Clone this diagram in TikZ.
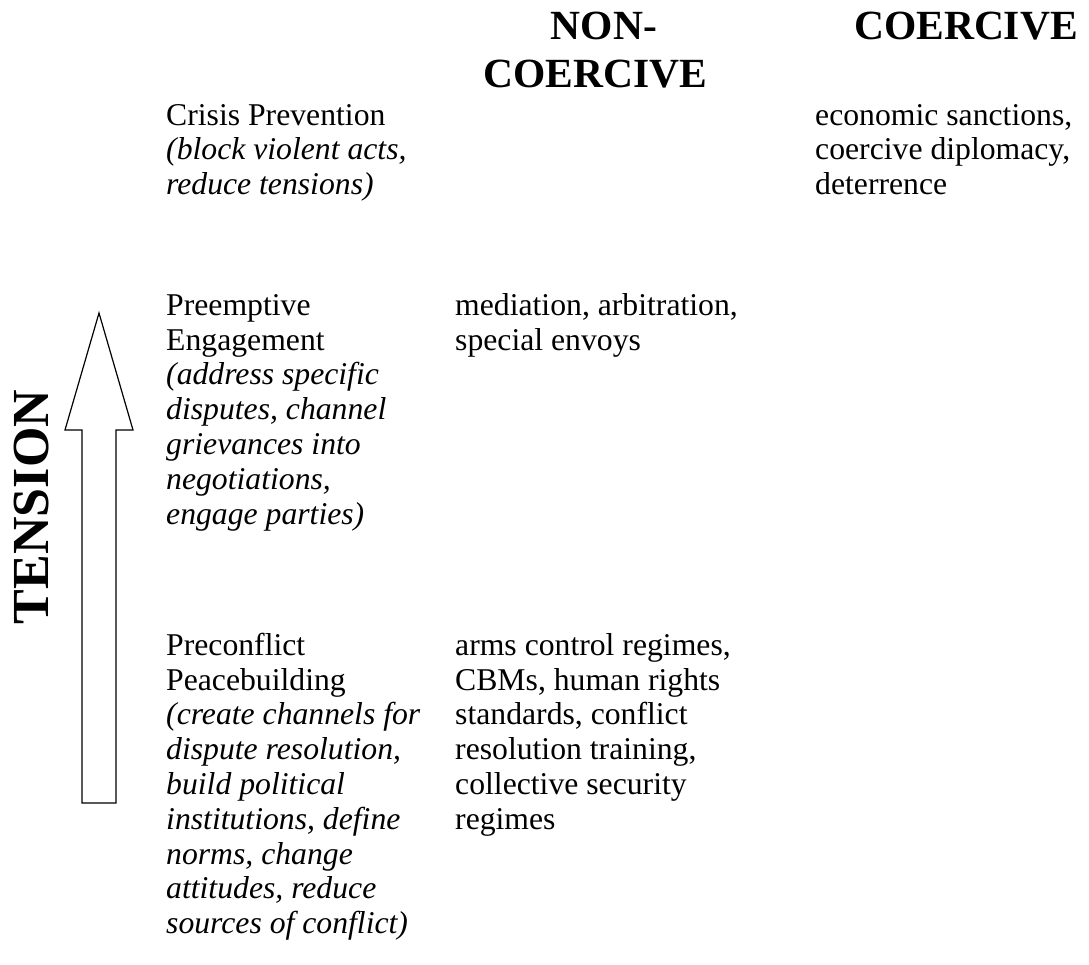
\documentclass[tikz,border=0pt]{standalone}
\usepackage{fontspec}
\setmainfont{Liberation Serif}
\newcommand{\bodystrut}{\rule{0pt}{25pt}}
\newcommand{\headstrut}{\rule{0pt}{32pt}}
\begin{document}
\begin{tikzpicture}[x=1pt,y=-1pt,
  body/.style={anchor=north west,inner sep=0pt,align=left,font=\fontsize{31.7}{34.8}\selectfont},
  head/.style={anchor=north,inner sep=0pt,align=center,font=\fontsize{41.5}{48}\selectfont\bfseries},
  arrowshape/.style={draw=black,line width=1.2pt,fill=white,line join=miter}]
\useasboundingbox (0,0) rectangle (1089,965);
% headings (first baseline at y=39)
\node[head] (hnc) at (595,7) {\headstrut\hspace*{18pt}NON-\\COERCIVE};
\node[head,anchor=north east] (hc) at (1078,7) {\headstrut COERCIVE};
% left column (first baselines 125, 315, 655)
\node[body] (cp) at (166,100) {\bodystrut Crisis Prevention\\\textit{(block violent acts,}\\\textit{reduce tensions)}};
\node[body] (pe) at (166,290) {\bodystrut Preemptive\\Engagement\\\textit{(address specific}\\\textit{disputes, channel}\\\textit{grievances into}\\\textit{negotiations,}\\\textit{engage parties)}};
\node[body] (pp) at (166,630) {\bodystrut Preconflict\\Peacebuilding\\\textit{(create channels for}\\\textit{dispute resolution,}\\\textit{build political}\\\textit{institutions, define}\\\textit{norms, change}\\\textit{attitudes, reduce}\\\textit{sources of conflict)}};
% middle column
\node[body] (med) at (455,290) {\bodystrut mediation, arbitration,\\special envoys};
\node[body] (arms) at (455,630) {\bodystrut arms control regimes,\\CBMs, human rights\\standards, conflict\\resolution training,\\collective security\\regimes};
% right column
\node[body] (econ) at (815,100) {\bodystrut economic sanctions,\\coercive diplomacy,\\deterrence};
% arrow
\coordinate (tip) at (99,313);
\draw[arrowshape] (82,803) -- (82,430) -- (65,430) -- (tip) -- (133,430) -- (116,430) -- (116,803) -- cycle;
\node[inner sep=0pt,rotate=90,font=\fontsize{52}{60}\selectfont\bfseries] (ten) at (32,507) {TENSION};
\end{tikzpicture}
\end{document}
